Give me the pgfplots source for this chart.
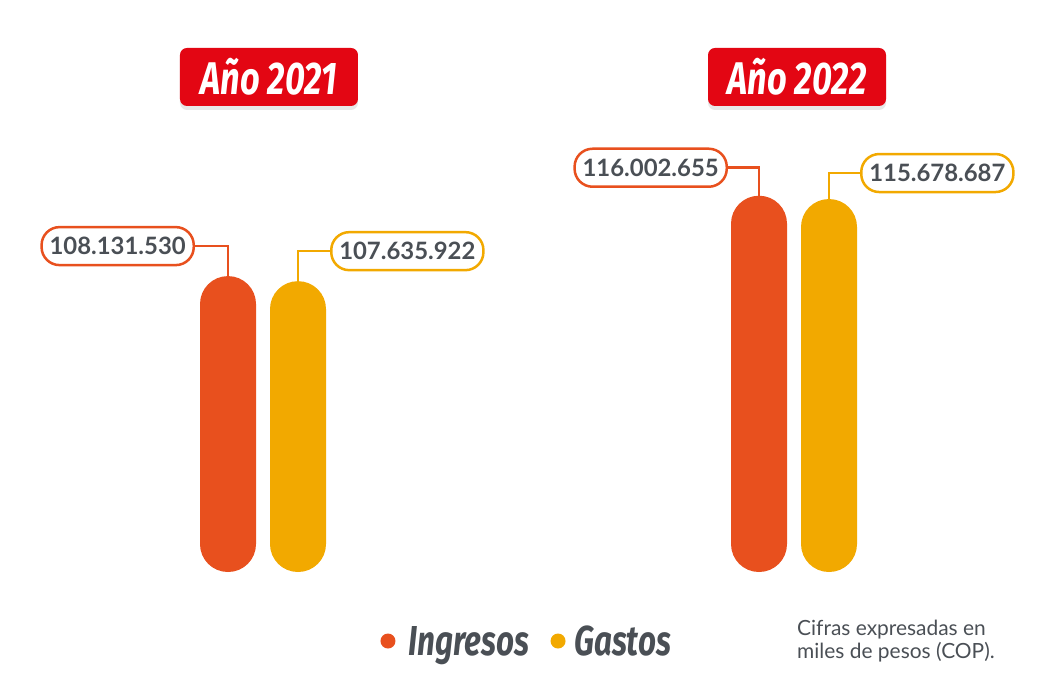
\documentclass[border=0pt]{standalone}
\usepackage{pgfplots}
\pgfplotsset{compat=1.18}
\usepackage{fontspec}
\setmainfont{Lato}
\newfontfamily\condfont[FakeStretch=0.75]{Fira Sans}
\usetikzlibrary{shadows}
\definecolor{ingcol}{HTML}{E8501E}
\definecolor{gascol}{HTML}{F2A900}
\definecolor{redbox}{HTML}{E30613}
\definecolor{txtgray}{HTML}{4A4F55}
\begin{document}
\begin{tikzpicture}
\begin{axis}[
  at={(0,0)}, anchor=south west,
  scale only axis, width=1039bp, height=693bp,
  hide axis, clip=false,
  xmin=-0.49529, xmax=1.46139,
  ymin=67.299, ymax=135.174,
  y coord trafo/.code={\pgfmathparse{#1-79.15}},
  y coord inv trafo/.code={\pgfmathparse{#1+79.15}},
  ybar, bar width=56bp,
]
\addplot[fill=ingcol, draw=none, bar shift=-35bp, rounded corners=27.9bp] coordinates {(0,108.131530) (1,116.002655)};
\addplot[fill=gascol, draw=none, bar shift=35bp, rounded corners=27.9bp] coordinates {(0,107.635922) (1,115.678687)};

\path (rel axis cs:0,0) rectangle (rel axis cs:1,1);

\coordinate (a1) at ([xshift=-35bp]axis cs:0,108.131530);
\coordinate (b1) at ([xshift=35bp]axis cs:0,107.635922);
\coordinate (a2) at ([xshift=-35bp]axis cs:1,116.002655);
\coordinate (b2) at ([xshift=35bp]axis cs:1,115.678687);

% titles
\node[fill=redbox, rounded corners=7bp, minimum width=178bp, minimum height=58bp, text=white,
  font=\condfont\bfseries\itshape\fontsize{46}{46}\selectfont,
  drop shadow={opacity=0.18, shadow xshift=0bp, shadow yshift=-4bp}]
  at (axis description cs:0.2589,0.8889) {Año 2021};
\node[fill=redbox, rounded corners=7bp, minimum width=178bp, minimum height=58bp, text=white,
  font=\condfont\bfseries\itshape\fontsize{46}{46}\selectfont,
  drop shadow={opacity=0.18, shadow xshift=0bp, shadow yshift=-4bp}]
  at (axis description cs:0.7671,0.8889) {Año 2022};

% legend
\fill[ingcol] (axis description cs:0.3734,0.0750) circle (7.5bp);
\fill[gascol] (axis description cs:0.5371,0.0750) circle (7.5bp);
\node[anchor=base west, inner sep=0, text=txtgray, font=\condfont\bfseries\itshape\fontsize{42}{42}\selectfont]
  at (axis description cs:0.3927,0.0548) {Ingresos};
\node[anchor=base west, inner sep=0, text=txtgray, font=\condfont\bfseries\itshape\fontsize{42}{42}\selectfont]
  at (axis description cs:0.5525,0.0548) {Gastos};

% footnote
\node[anchor=base west, inner sep=0, text=txtgray, font=\fontsize{21}{21}\selectfont]
  at (axis description cs:0.7671,0.0823) {Cifras expresadas en};
\node[anchor=base west, inner sep=0, text=txtgray, font=\fontsize{21}{21}\selectfont]
  at (axis description cs:0.7671,0.0491) {miles de pesos (COP).};
\end{axis}

% value labels
\tikzset{vlab/.style={draw=#1, fill=white, rounded corners=18bp, minimum height=38bp, inner xsep=8bp, inner ysep=0bp,
  text=txtgray, font=\bfseries\fontsize{24}{24}\selectfont, line width=2.5bp}}
\draw[ingcol, line width=2.5bp] (a1) -- ++(0,30bp) -- ++(-33bp,0)
  node[vlab=ingcol, anchor=east] {108.131.530};
\draw[gascol, line width=2.5bp] (b1) -- ++(0,30bp) -- ++(32bp,0)
  node[vlab=gascol, anchor=west] {107.635.922};
\draw[ingcol, line width=2.5bp] (a2) -- ++(0,28bp) -- ++(-31bp,0)
  node[vlab=ingcol, anchor=east] {116.002.655};
\draw[gascol, line width=2.5bp] (b2) -- ++(0,26bp) -- ++(31bp,0)
  node[vlab=gascol, anchor=west] {115.678.687};
\end{tikzpicture}
\end{document}
